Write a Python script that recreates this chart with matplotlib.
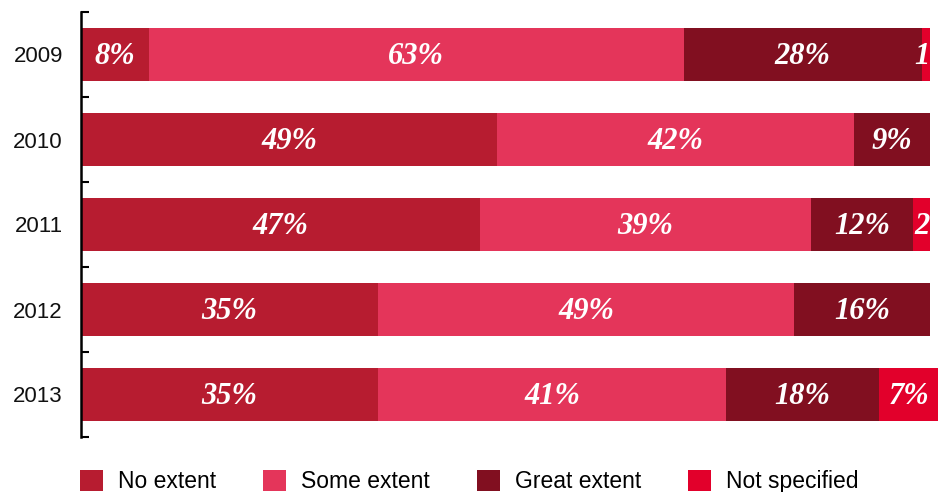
import matplotlib.pyplot as plt
from matplotlib.patches import Patch
from matplotlib.ticker import FixedLocator
import numpy as np

# Survey responses per year (percent)
years = ['2009', '2010', '2011', '2012', '2013']
categories = ['No extent', 'Some extent', 'Great extent', 'Not specified']
no_extent = [8, 49, 47, 35, 35]
some_extent = [63, 42, 39, 49, 41]
great_extent = [28, 9, 12, 16, 18]
not_specified = [1, 0, 2, 0, 7]

colors = ['#b71c30', '#e4355a', '#810f20', '#e2002b']
series = [no_extent, some_extent, great_extent, not_specified]

fig = plt.figure(figsize=(9.46, 4.92), dpi=100)
ax = fig.add_axes([81 / 946, 55 / 492, 849 / 946, 425 / 492])

label_font = dict(color='white', fontsize=22, fontweight='bold', fontstyle='italic',
                  family='Liberation Serif')

y = np.arange(len(years))
left = np.zeros(len(years))
for vals, col in zip(series, colors):
    vals = np.array(vals, dtype=float)
    ax.barh(y, vals, left=left, height=0.612, color=col, clip_on=False, zorder=2)
    for i, v in enumerate(vals):
        if v <= 0:
            continue
        if v >= 5:
            ax.text(left[i] + v / 2, y[i] + 0.02, f'{int(v)}%', ha='center', va='center',
                    clip_on=False, zorder=3, **label_font)
        else:
            # narrow segment: just the number, tucked against the right end
            ax.text(left[i] + v - 0.05, y[i] + 0.02, f'{int(v)}', ha='right', va='center',
                    clip_on=False, zorder=3, **label_font)
    left += vals

ax.set_xlim(0, 100)
ax.set_ylim(len(years) - 0.5, -0.5)
ax.set_yticks(y)
ax.set_yticklabels(years, fontsize=16, family='Liberation Sans', color='#111111')
ax.yaxis.set_minor_locator(FixedLocator(np.arange(-0.5, len(years), 1)))
ax.tick_params(axis='y', which='major', length=0, pad=13)
ax.tick_params(axis='y', which='minor', direction='in', length=5.5, width=1.5)
ax.set_xticks([])
for s in ['top', 'right', 'bottom']:
    ax.spines[s].set_visible(False)
ax.spines['left'].set_linewidth(1.8)
ax.spines['left'].set_zorder(4)

handles = [Patch(facecolor=c, edgecolor='none') for c in colors]
fig.legend(handles, categories, loc='upper left', bbox_to_anchor=(80 / 946, 22 / 492),
           ncol=4, frameon=False, prop={'family': 'Liberation Sans', 'size': 16.5},
           handlelength=1.0, handleheight=1.0, handletextpad=0.66,
           columnspacing=2.05, borderpad=0, borderaxespad=0)

fig.savefig('out.png', dpi=100)
